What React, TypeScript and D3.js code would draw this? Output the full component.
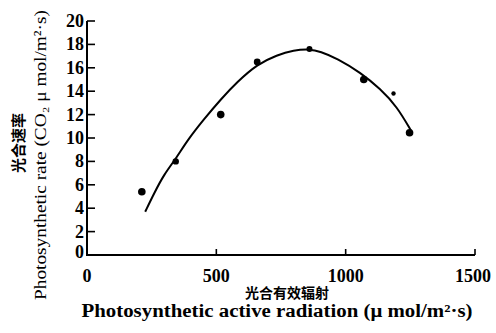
import React from "react";
import * as d3 from "d3";

const W = 496;
const H = 333;

// observed points: PAR, rate, marker size
const pointX = [212, 343, 517, 658, 860, 1070, 1185, 1247];
const pointY = [5.4, 8.0, 12.0, 16.5, 17.6, 15.0, 13.8, 10.45];
const pointR = [3.8, 3.2, 3.8, 3.4, 3.0, 3.8, 2.2, 3.8];

// fitted curve
const curveX = [225, 260, 298, 343, 388, 452, 517, 581, 658, 735, 799, 860, 902, 967, 1057, 1134, 1198, 1256];
const curveY = [3.7, 5.3, 6.9, 8.2, 9.8, 11.6, 13.3, 14.8, 16.3, 17.1, 17.5, 17.6, 17.4, 16.8, 15.6, 14.2, 12.7, 10.5];

const xTicks = [0, 500, 1000, 1500];
const yTicks = [0, 2, 4, 6, 8, 10, 12, 14, 16, 18, 20];

const serif = "'Liberation Serif', 'DejaVu Serif', serif";
const cjk = "'Noto Sans CJK SC', sans-serif";

export default function App() {
  const x = d3.scaleLinear().domain([0, 1500]).range([87, 475]);
  const y = d3.scaleLinear().domain([0, 20]).range([255, 21]);

  const line = d3
    .line<number>()
    .x((_, i) => x(curveX[i]))
    .y((d) => y(d))
    .curve(d3.curveBasis);

  return (
    <svg
      width={W}
      height={H}
      style={{ position: "absolute", left: 0, top: 0, background: "#fff" }}
    >
      {/* axes */}
      <path
        d={`M${x(0)},${y(20)} L${x(0)},${y(0)} L${x(1500)},${y(0)}`}
        fill="none"
        stroke="#000"
        strokeWidth={2}
      />
      {yTicks.map((t) => (
        <g key={"y" + t}>
          {t > 0 && (
            <line x1={x(0)} x2={x(0) + 8} y1={y(t)} y2={y(t)} stroke="#000" strokeWidth={1.6} />
          )}
          <text
            x={x(0) - 3}
            y={y(t) - (t === 0 ? 3 : 0)}
            textAnchor="end"
            dominantBaseline="central"
            fontFamily={serif}
            fontWeight="bold"
            fontSize={18}
          >
            {t}
          </text>
        </g>
      ))}
      {xTicks.map((t, i) => (
        <g key={"x" + t}>
          {t > 0 && (
            <line x1={x(t)} x2={x(t)} y1={y(0)} y2={y(0) - 6} stroke="#000" strokeWidth={1.6} />
          )}
          <text
            x={i === xTicks.length - 1 ? x(t) + 16 : x(t)}
            y={282}
            textAnchor={i === xTicks.length - 1 ? "end" : "middle"}
            fontFamily={serif}
            fontWeight="bold"
            fontSize={18}
          >
            {t}
          </text>
        </g>
      ))}

      {/* curve */}
      <path d={line(curveY) || ""} fill="none" stroke="#000" strokeWidth={2} />

      {/* points */}
      {pointX.map((px, i) => (
        <circle key={"p" + i} cx={x(px)} cy={y(pointY[i])} r={pointR[i]} fill="#000" />
      ))}

      {/* x titles */}
      <text
        x={287}
        y={298}
        textAnchor="middle"
        fontFamily={cjk}
        fontWeight="bold"
        fontSize={14}
      >
        光合有效辐射
      </text>
      <text
        x={277}
        y={317}
        textAnchor="middle"
        fontFamily={serif}
        fontWeight="bold"
        fontSize={18}
        textLength={391}
        lengthAdjust="spacingAndGlyphs"
      >
        Photosynthetic active radiation (μ mol/m²·s)
      </text>

      {/* y titles */}
      <text
        transform={`translate(24,143) rotate(-90)`}
        textAnchor="middle"
        fontFamily={cjk}
        fontWeight="bold"
        fontSize={15}
      >
        光合速率
      </text>
      <text
        transform={`translate(46,155) rotate(-90)`}
        textAnchor="middle"
        fontFamily={serif}
        fontSize={17}
        textLength={290}
        lengthAdjust="spacingAndGlyphs"
      >
        Photosynthetic rate (CO₂ μ mol/m²·s)
      </text>
    </svg>
  );
}
